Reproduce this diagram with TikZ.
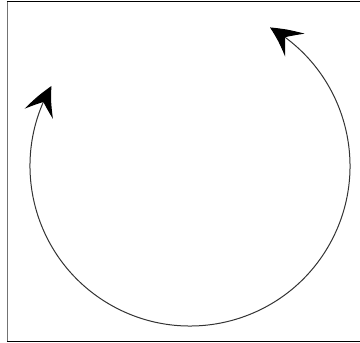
\documentclass[tikz,border=0pt]{standalone}
\usetikzlibrary{arrows.meta, bending}

\begin{document}
\begin{tikzpicture}[x=1pt, y=1pt]

    \useasboundingbox (0,0) rectangle (360,343);

    % frame (open on the right)
    \draw[black!55, line width=1.4pt] (7.5,1.5) -- (7.5,341.5);
    \draw[black, line width=1pt] (7,341.5) -- (360,341.5);
    \draw[black, line width=1pt] (7,1.5) -- (360,1.5);

    % circular arrow
    \coordinate (centre) at (190,177);
    \draw[black!80, line width=1pt,
          {Stealth[length=31pt, width=30pt, inset=13pt, bend, color=black]}-{Stealth[length=31pt, width=30pt, inset=13pt, bend, color=black]}]
        (centre) ++(60:160pt) arc[start angle=60, end angle=-210, radius=160pt];

\end{tikzpicture}
\end{document}
